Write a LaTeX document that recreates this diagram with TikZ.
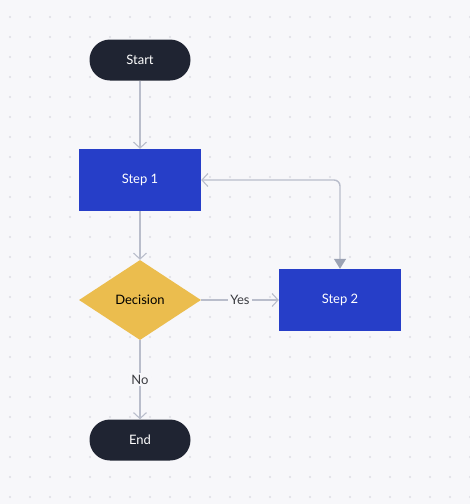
\documentclass[tikz,border=0pt]{standalone}
\usepackage{fontspec}
\setmainfont{Lato}
\usepackage{tikz}
\usetikzlibrary{arrows.meta, positioning, shapes.geometric}
\definecolor{bgGray}{HTML}{F7F7FA}
\definecolor{dotGray}{HTML}{DCDDE3}
\definecolor{lineGray}{HTML}{B9BDCB}
\definecolor{tipGray}{HTML}{9BA2B4}
\definecolor{termBlack}{HTML}{1F2432}
\definecolor{stepBlue}{HTML}{263EC8}
\definecolor{decGold}{HTML}{EBBD4E}
\definecolor{labelGray}{HTML}{3A3B40}

\begin{document}
\begin{tikzpicture}[x=1pt, y=-1pt,
    font=\fontsize{13}{15}\selectfont,
    terminal/.style={fill=termBlack, text=white, rounded corners=20.5pt,
        minimum width=101pt, minimum height=41pt, inner sep=0pt},
    stepbox/.style={fill=stepBlue, text=white,
        minimum width=122pt, minimum height=62pt, inner sep=0pt},
    decision/.style={diamond, fill=decGold, text=black,
        minimum width=122pt, minimum height=80pt, inner sep=0pt},
    link/.style={draw=lineGray, line width=1.4pt,
        -{Straight Barb[length=6pt, width=13pt, line width=1.1pt]}},
    linklabel/.style={fill=bgGray, text=labelGray, inner sep=2pt}]
    % Background
    \fill[bgGray] (0,0) rectangle (470,504);
    \useasboundingbox (0,0) rectangle (470,504);
    % Grid
    \foreach \gx in {10,30,...,470}
        \foreach \gy in {17,37,...,497}
            \fill[dotGray] (\gx,\gy) circle (1.1pt);

    \node[terminal] (start) at (140,60) {Start};
    \node[stepbox] (step1) at (140,180) {Step 1};
    \node[decision] (dec) at (140,300) {Decision};
    \node[stepbox] (step2) at (340,300) {Step 2};
    \node[terminal] (end) at (140,440) {End};

    \draw[link] (start) -- (step1);
    \draw[link] (step1) -- (dec);
    \draw[link] (dec) -- node[linklabel] {Yes} (step2);
    \draw[link] (dec) -- node[linklabel] {No} (end);
    \draw[draw=lineGray, line width=1.4pt, rounded corners=6pt,
        {Straight Barb[length=6pt, width=13pt, line width=1.1pt]}-{Triangle[length=10pt, width=12pt, color=tipGray]}]
        (step1.east) -| (step2.north);
\end{tikzpicture}
\end{document}
